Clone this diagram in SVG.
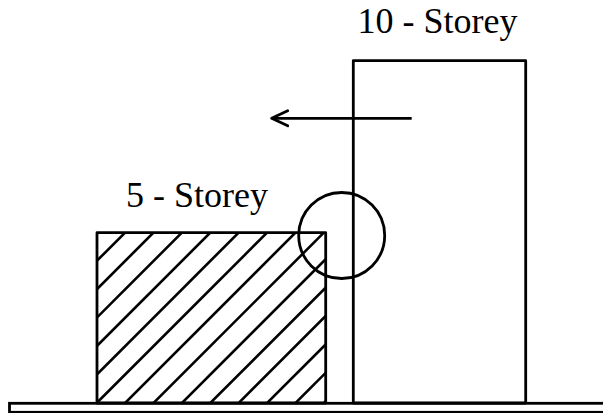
<svg xmlns="http://www.w3.org/2000/svg" width="603" height="413" viewBox="0 0 603 413">
<style>
.s{fill:none;stroke:#000;stroke-width:2.8;stroke-linejoin:round}
.h{stroke:#000;stroke-width:2.6}
.t{font-family:"Liberation Serif","Times New Roman",serif;font-size:36px;fill:#000}
</style>
<defs>
<clipPath id="c5"><rect x="97" y="232.7" width="228.7" height="170.3"/></clipPath>
<marker id="ah" markerWidth="20" markerHeight="20" refX="17" refY="10" orient="auto" markerUnits="userSpaceOnUse">
<path d="M1,2.5 L17,10 L1,17.5" fill="none" stroke="#000" stroke-width="2.8" stroke-linecap="round" stroke-linejoin="round"/>
</marker>
</defs>
<rect id="ground" x="9.5" y="403.3" width="610" height="9" fill="#fff" stroke="#000" stroke-width="2.8"/>
<g id="storey5">
<g clip-path="url(#c5)">
<line class="h" x1="-242.3" y1="600" x2="357.7" y2="0"/>
<line class="h" x1="-213.9" y1="600" x2="386.1" y2="0"/>
<line class="h" x1="-185.5" y1="600" x2="414.5" y2="0"/>
<line class="h" x1="-157.1" y1="600" x2="442.9" y2="0"/>
<line class="h" x1="-128.7" y1="600" x2="471.3" y2="0"/>
<line class="h" x1="-100.3" y1="600" x2="499.7" y2="0"/>
<line class="h" x1="-71.9" y1="600" x2="528.1" y2="0"/>
<line class="h" x1="-43.5" y1="600" x2="556.5" y2="0"/>
<line class="h" x1="-15.1" y1="600" x2="584.9" y2="0"/>
<line class="h" x1="13.3" y1="600" x2="613.3" y2="0"/>
<line class="h" x1="41.7" y1="600" x2="641.7" y2="0"/>
<line class="h" x1="70.1" y1="600" x2="670.1" y2="0"/>
<line class="h" x1="98.5" y1="600" x2="698.5" y2="0"/>
<line class="h" x1="126.9" y1="600" x2="726.9" y2="0"/>
</g>
<rect class="s" x="97" y="232.7" width="228.7" height="170.3"/>
<text class="t" x="126" y="206.5">5 - Storey</text>
</g>
<g id="storey10">
<rect class="s" x="353.3" y="60.7" width="172.4" height="342.3"/>
<text class="t" x="357.5" y="33">10 - Storey</text>
</g>
<g id="detail">
<circle class="s" cx="341.7" cy="235.5" r="43"/>
</g>
<g id="connectors">
<line x1="411.7" y1="118.3" x2="271.7" y2="118.3" stroke="#000" stroke-width="2.8" marker-end="url(#ah)"/>
</g>
</svg>
